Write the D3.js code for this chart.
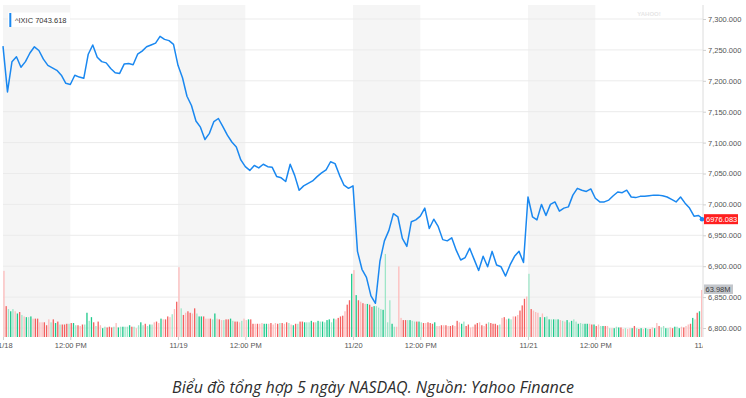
<!DOCTYPE html>
<html lang="vi">
<head>
  <meta charset="UTF-8">
  <title>NASDAQ 5 ngày</title>
  <script src="https://d3js.org/d3.v7.min.js"></script>
  <style>
    body { margin: 0; background: #fff; }
    svg text { font-family: "Liberation Sans", Arial, sans-serif; }
    .caption { font-family: "Open Sans", sans-serif; font-style: italic; }
  </style>
</head>
<body>
<div id="chart"></div>
<script>
  // Day labels (the last one only shows clipped at the right edge)
  const dayLabels = ["11/18", "11/19", "11/20", "11/21", "11/22"];
  const noonLabel = "12:00 PM";
  const yTicks = [6800, 6850, 6900, 6950, 7000, 7050, 7100, 7150, 7200, 7250, 7300];

  // ^IXIC price, one value every 10 minutes from the open
  const px1118 = [7256,7182,7231,7239,7222,7231,7245,7255,7249,7235,7225,7221,7217,7209,7196,7194,7209,7206,7204,7243,7258,7238,7231,7229,7220,7213,7212,7227,7228,7226,7243,7248,7255,7258,7261,7272,7267,7265,7259];
  const px1119 = [7225,7205,7175,7160,7135,7125,7105,7115,7134,7139,7126,7112,7101,7093,7072,7061,7055,7063,7059,7065,7061,7060,7045,7043,7037,7065,7047,7023,7030,7034,7038,7045,7051,7056,7069,7066,7047,7031,7026];
  const px1120 = [7030,6924,6895,6882,6852,6840,6908,6941,6958,6985,6980,6945,6932,6972,6975,6981,6994,6961,6976,6964,6943,6941,6946,6926,6910,6914,6929,6911,6893,6916,6899,6924,6902,6899,6884,6902,6916,6924,6906];
  const px1121 = [7012,6980,6975,7000,6982,7000,7004,6989,6994,6996,7015,7026,7023,7021,7025,7010,7004,7004,7007,7014,7020,7019,7023,7012,7011,7013,7013,7014,7015,7015,7014,7012,7008,7004,7012,7002,6994,6981,6982,6976.083];

  // Volume in millions, one bar every 5 minutes
  const vol1118 = [90,42,38,35,38,35,32,34,30,28,27,27,28,25,25,25,20,20,20,16,24,20,24,19,21,17,17,17,18,18,19,19,16,16,15,17,17,33,22,27,20,15,21,16,12,14,13,14,13,14,19,13,14,14,14,14,16,14,14,12,16,20,16,18,15,17,17,20,21,19,25,24,24,28,27,31,38,48];
  const vol1119 = [95,39,30,33,35,33,32,39,32,28,28,28,25,25,25,24,32,25,24,23,23,24,24,25,22,21,21,20,22,25,23,24,24,18,18,18,18,19,18,18,18,19,17,19,18,19,19,18,20,19,17,16,18,18,21,21,20,20,20,22,20,20,22,21,21,20,23,24,20,25,24,26,28,29,35,44,50,86];
  const vol1120 = [91,57,50,48,46,45,45,44,41,42,42,40,38,37,113,20,50,18,14,14,96,26,23,23,23,23,22,21,21,21,20,19,19,20,19,18,20,15,15,16,16,16,15,15,16,15,22,20,18,21,15,17,13,14,17,19,20,16,15,18,20,19,18,18,16,17,26,27,24,25,24,28,28,30,36,43,52,55];
  const vol1121 = [86,38,36,34,33,27,32,27,28,24,24,24,24,24,23,22,21,23,20,22,24,21,18,19,18,18,18,18,17,17,15,17,15,15,15,15,12,12,12,14,13,13,11,12,11,12,12,15,12,11,12,11,12,11,11,13,12,19,15,13,15,12,12,13,12,14,14,12,14,13,15,17,18,26,24,33,35,64];
  // Bar colour codes: R down, r down (faded), G up, g up (faded)
  const col1118 = "rRgGgrGRgrGgGrRRrrRRrgRGRgRRRgRGgRrRgGgGRgRrGgRRRgrGgGggGRgrgGgRgGgrRrGrRRrgrR";
  const col1119 = "rgRrRRrRgGGRrrRgGrRrgRRGgRRrgrrGRRrRrrGGrRrrRgRrRgrGRgRRGggGRgGgGgGGgGrRRRrRRG";
  const col1120 = "rGRrRrGRRGgggGgggGgrrrRRgGggRGgRrRRRGrrRrRrRRrRrGgRRrrRRrRrRgRRRRgrRrGgrRrRRRr";
  const col1121 = "gRrrrGrGgGgGgGrgrGgGggGggGGrRGRrgGRrgrGgGRrgrrGRgRGrGgRrGrRggGgrRGgGrRrrRGrRGrr";

  const legendText = "^IXIC 7043.618";
  const lastVolText = "63.98M";
  const caption = "Biểu đồ tổng hợp 5 ngày NASDAQ. Nguồn: Yahoo Finance";

  const prices = [px1118, px1119, px1120, px1121];
  const volumes = [vol1118, vol1119, vol1120, vol1121];
  const colours = [col1118, col1119, col1120, col1121];

  const W = 746, H = 398;
  const plotLeft = 3, plotRight = 703, plotTop = 5, plotBottom = 337;
  const dayMin = 390;   // 9:30 - 16:00
  const noonMin = 150;  // 12:00 after the open

  const barColour = { R: "#f4605f", r: "#fdbcbc", G: "#1dc98b", g: "#9ee6c8" };
  const blue = "#1a88f0";

  // flatten into points on a "trading minutes" axis
  const line = [];
  prices.forEach((arr, d) => arr.forEach((v, k) => line.push({ t: d * dayMin + k * 10, v: v })));
  const bars = [];
  volumes.forEach((arr, d) => arr.forEach((v, i) => bars.push({ t: d * dayMin + i * 5, v: v, c: colours[d][i] })));

  const x = d3.scaleLinear().domain([0, 4 * dayMin]).range([plotLeft, plotRight]);
  const y = d3.scaleLinear().domain([6800, 7300]).range([328, 19]);
  const vy = d3.scaleLinear().domain([0, 100]).range([plotBottom, plotBottom - 73.5]);

  const svg = d3.select('#chart').append('svg')
    .attr('width', W)
    .attr('height', H);

  svg.append('clipPath').attr('id', 'xclip')
    .append('rect').attr('x', -20).attr('y', 0).attr('width', plotRight + 20).attr('height', H);

  // morning shading for each session
  svg.selectAll('rect.band')
    .data(d3.range(4))
    .enter().append('rect')
    .attr('class', 'band')
    .attr('x', d => x(d * dayMin))
    .attr('y', plotTop)
    .attr('width', d => x(d * dayMin + noonMin) - x(d * dayMin))
    .attr('height', plotBottom - plotTop)
    .attr('fill', '#f5f5f5');

  // horizontal grid
  svg.selectAll('line.grid')
    .data(yTicks)
    .enter().append('line')
    .attr('class', 'grid')
    .attr('x1', plotLeft).attr('x2', plotRight)
    .attr('y1', d => y(d)).attr('y2', d => y(d))
    .attr('stroke', '#ebebeb');

  // faint watermark
  svg.append('text')
    .attr('x', 649).attr('y', 16)
    .attr('text-anchor', 'middle')
    .attr('font-size', 6).attr('font-weight', 'bold')
    .attr('fill', '#e6e6e6')
    .text('YAHOO!');

  // volume bars
  svg.selectAll('rect.vol')
    .data(bars)
    .enter().append('rect')
    .attr('class', 'vol')
    .attr('x', d => x(d.t) + 0.3)
    .attr('y', d => vy(d.v))
    .attr('width', 1.3)
    .attr('height', d => plotBottom - vy(d.v))
    .attr('fill', d => barColour[d.c]);

  // right axis line
  svg.append('line')
    .attr('x1', plotRight).attr('x2', plotRight)
    .attr('y1', plotTop).attr('y2', plotBottom)
    .attr('stroke', '#dcdcdc');

  const yAxis = svg.append('g')
    .attr('transform', `translate(${plotRight},0)`)
    .call(d3.axisRight(y).tickValues(yTicks).tickSize(3).tickPadding(2).tickFormat(d3.format(',.3f')));
  yAxis.select('.domain').remove();
  yAxis.selectAll('line').attr('stroke', '#d0d0d0');
  yAxis.selectAll('text').attr('font-size', 7.5).attr('fill', '#555')
    .style('font-family', '"Liberation Sans", Arial, sans-serif');

  // bottom axis: day starts and noon
  const xTicks = [];
  dayLabels.forEach((lab, d) => {
    xTicks.push({ t: d * dayMin, label: lab });
    if (d < 4) xTicks.push({ t: d * dayMin + noonMin, label: noonLabel });
  });
  const xAxis = svg.append('g')
    .attr('clip-path', 'url(#xclip)')
    .append('g')
    .attr('transform', `translate(0,${plotBottom})`)
    .call(d3.axisBottom(x)
      .tickValues(xTicks.map(d => d.t))
      .tickSize(3).tickPadding(3)
      .tickFormat((t, i) => xTicks[i].label));
  xAxis.select('.domain').remove();
  xAxis.selectAll('line').attr('stroke', '#cfcfcf');
  xAxis.selectAll('text').attr('font-size', 7.5).attr('fill', '#555')
    .style('font-family', '"Liberation Sans", Arial, sans-serif');

  // price line
  svg.append('path')
    .datum(line)
    .attr('fill', 'none')
    .attr('stroke', blue)
    .attr('stroke-width', 1.5)
    .attr('stroke-linejoin', 'round')
    .attr('d', d3.line().x(d => x(d.t)).y(d => y(d.v)));

  const last = line[line.length - 1];
  svg.append('circle')
    .attr('cx', x(last.t) - 1).attr('cy', y(last.v))
    .attr('r', 2.3).attr('fill', blue);

  // last price tag
  svg.append('rect')
    .attr('x', plotRight + 1).attr('y', y(last.v) - 5)
    .attr('width', 34).attr('height', 10)
    .attr('fill', '#ff1f1f');
  svg.append('text')
    .attr('x', plotRight + 3).attr('y', y(last.v))
    .attr('dy', '0.35em')
    .attr('font-size', 7.5).attr('fill', '#fff')
    .text(d3.format('.3f')(last.v));

  // last volume tag
  const lastBar = bars[bars.length - 1];
  svg.append('rect')
    .attr('x', plotRight + 1).attr('y', vy(lastBar.v) - 5.5)
    .attr('width', 29).attr('height', 9.5)
    .attr('fill', '#c3c6cb');
  svg.append('text')
    .attr('x', plotRight + 2.5).attr('y', vy(lastBar.v) - 0.8)
    .attr('dy', '0.35em')
    .attr('font-size', 7.5).attr('fill', '#3c3c3c')
    .text(lastVolText);

  // legend
  svg.append('rect')
    .attr('x', 8).attr('y', 12.5).attr('width', 62).attr('height', 14.5)
    .attr('fill', '#fff');
  svg.append('rect')
    .attr('x', 9.3).attr('y', 13).attr('width', 2).attr('height', 14)
    .attr('fill', blue);
  svg.append('text')
    .attr('x', 15).attr('y', 20)
    .attr('dy', '0.35em')
    .attr('font-size', 7.5).attr('fill', '#333')
    .text(legendText);

  // caption
  svg.append('text')
    .attr('class', 'caption')
    .attr('x', 373).attr('y', 393)
    .attr('text-anchor', 'middle')
    .attr('font-size', 16).attr('fill', '#2d2d2d')
    .text(caption);
</script>
</body>
</html>
